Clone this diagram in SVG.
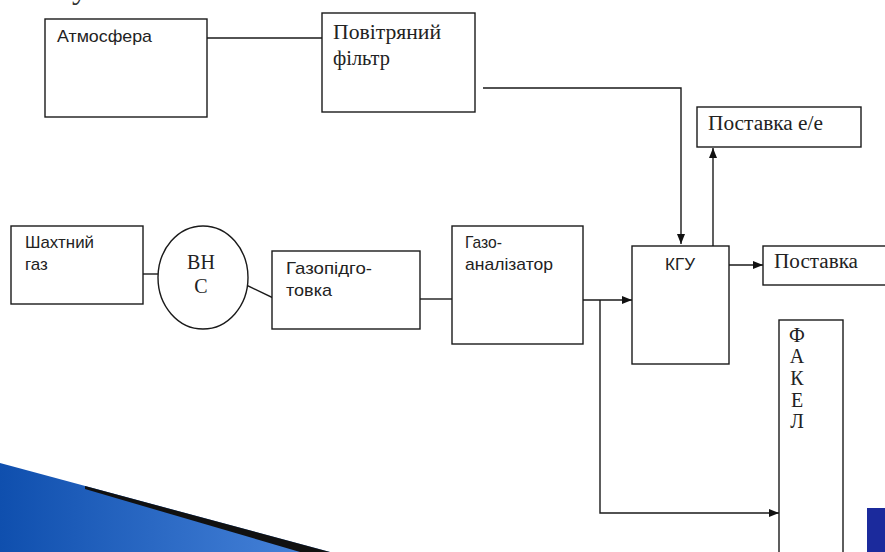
<svg xmlns="http://www.w3.org/2000/svg" width="885" height="552" viewBox="0 0 885 552">
<style>
.box{fill:#fff;stroke:#1a1a1a;stroke-width:1.4}
.ln{fill:none;stroke:#1a1a1a;stroke-width:1.4}
.sans{font-family:"Liberation Sans",Arial,sans-serif;font-size:17px;fill:#222}
.serif{font-family:"Liberation Serif","Times New Roman",serif;font-size:20px;fill:#222}
</style>
<defs>
<marker id="ah" viewBox="0 0 10 8" refX="10" refY="4" markerWidth="10" markerHeight="8" markerUnits="userSpaceOnUse" orient="auto">
<path d="M0,0 L10,4 L0,8 z" fill="#111"/>
</marker>
<linearGradient id="blue" x1="0" y1="0" x2="1" y2="0">
<stop offset="0" stop-color="#0f4fae"/>
<stop offset="1" stop-color="#4a86dc"/>
</linearGradient>
</defs>
<rect width="885" height="552" fill="#fff"/>
<text x="72" y="-2" font-family="'Liberation Serif',serif" font-size="32" fill="#333">у становки</text>
<g id="decor">
<path d="M0,463 L330,552 L0,552 z" fill="url(#blue)"/>
<path d="M85,486 L330,552 L300,552 L85,489 z" fill="#111"/>
<rect x="867" y="508" width="18" height="44" fill="#1b2a9c"/>
</g>
<g id="connectors">
<line class="ln" x1="207" y1="38" x2="322" y2="38"/>
<polyline class="ln" points="483,88 681,88 681,244" marker-end="url(#ah)"/>
<line class="ln" x1="713" y1="246" x2="713" y2="148" marker-end="url(#ah)"/>
<line class="ln" x1="729" y1="265" x2="763" y2="265" marker-end="url(#ah)"/>
<line class="ln" x1="143" y1="274" x2="158" y2="274"/>
<line class="ln" x1="238" y1="281" x2="290" y2="306"/>
<line class="ln" x1="420" y1="299" x2="452" y2="299"/>
<line class="ln" x1="583" y1="300" x2="632" y2="300" marker-end="url(#ah)"/>
<polyline class="ln" points="600,300 600,513 779,513" marker-end="url(#ah)"/>
</g>
<g id="atmosfera">
<rect class="box" x="45" y="19" width="162" height="98"/>
<text class="sans" x="57" y="42" font-size="18" textLength="95" lengthAdjust="spacingAndGlyphs">Атмосфера</text>
</g>
<g id="filtr">
<rect class="box" x="322" y="13" width="153" height="99"/>
<text class="serif" x="333" y="39" textLength="108" lengthAdjust="spacingAndGlyphs">Повітряний</text>
<text class="serif" x="333" y="65" textLength="57" lengthAdjust="spacingAndGlyphs">фільтр</text>
</g>
<g id="postavka-ee">
<rect class="box" x="697" y="107" width="164" height="40"/>
<text class="serif" x="708" y="130" font-size="21" textLength="115" lengthAdjust="spacingAndGlyphs">Поставка е/е</text>
</g>
<g id="shakhtnyi">
<rect class="box" x="11" y="226" width="132" height="78"/>
<text class="sans" x="25" y="248" font-size="16" textLength="69" lengthAdjust="spacingAndGlyphs">Шахтний</text>
<text class="sans" x="25" y="270" font-size="17">газ</text>
</g>
<g id="vns">
<ellipse class="box" cx="203" cy="277.5" rx="45" ry="51.5"/>
<text class="serif" x="201" y="269" font-size="22" text-anchor="middle">ВН</text>
<text class="serif" x="201" y="293" font-size="22" text-anchor="middle">С</text>
</g>
<g id="gazopidgotovka">
<rect class="box" x="272" y="251" width="148" height="78"/>
<text class="sans" x="286" y="274" textLength="86" lengthAdjust="spacingAndGlyphs">Газопідго-</text>
<text class="sans" x="286" y="296" textLength="46" lengthAdjust="spacingAndGlyphs">товка</text>
</g>
<g id="gazoanalizator">
<rect class="box" x="452" y="226" width="131" height="118"/>
<text class="sans" x="465" y="248" textLength="37" lengthAdjust="spacingAndGlyphs">Газо-</text>
<text class="sans" x="465" y="270" textLength="88" lengthAdjust="spacingAndGlyphs">аналізатор</text>
</g>
<g id="kgu">
<rect class="box" x="632" y="246" width="97" height="118"/>
<text class="sans" x="665" y="270" textLength="30" lengthAdjust="spacingAndGlyphs">КГУ</text>
</g>
<g id="postavka">
<rect class="box" x="763" y="246" width="130" height="39"/>
<text class="serif" x="774" y="268" font-size="21" textLength="84" lengthAdjust="spacingAndGlyphs">Поставка</text>
</g>
<g id="fakel">
<rect class="box" x="779" y="320" width="64" height="240"/>
<g class="serif" font-size="14" text-anchor="middle">
<text x="797" y="342">Ф</text>
<text x="797" y="363">А</text>
<text x="797" y="385">К</text>
<text x="797" y="407">Е</text>
<text x="797" y="428">Л</text>
</g>
</g>
</svg>
